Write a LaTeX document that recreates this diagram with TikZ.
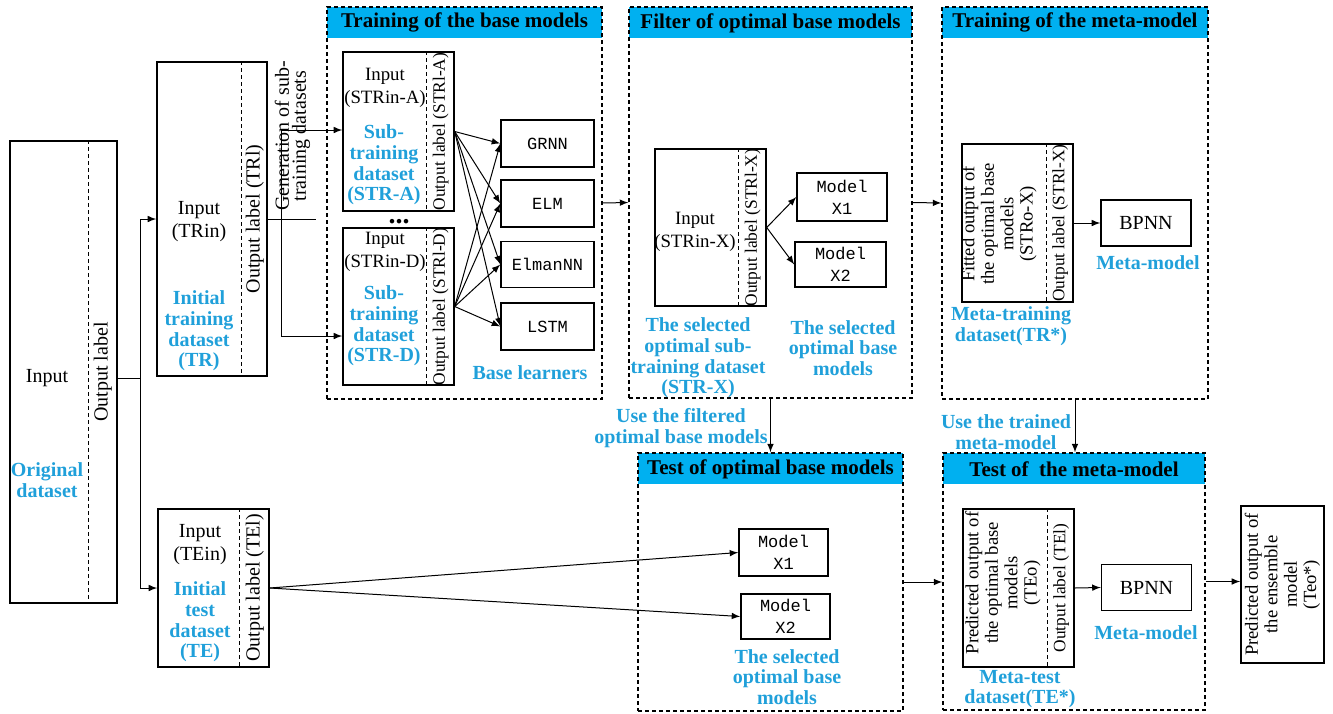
\documentclass[tikz,border=0pt]{standalone}
\usepackage{fontspec}
\setmainfont{Liberation Serif}
\newfontfamily\monofont{Liberation Mono}
\usepackage{xcolor}
\usepackage{tikz}
\usetikzlibrary{arrows}
\definecolor{barblue}{RGB}{0,176,240}
\definecolor{txtblue}{RGB}{32,160,218}

\begin{document}
\begin{tikzpicture}[x=0.5pt, y=-0.5pt,
        dset/.style={draw, line width=0.7pt, inner sep=0pt},
        divline/.style={line width=0.6pt, dash pattern=on 2pt off 1.5pt},
        panel/.style={draw, line width=0.6pt, dash pattern=on 2pt off 1.5pt, inner sep=0pt},
        bar/.style={fill=barblue, inner sep=0pt, minimum height=15.5pt, anchor=north,
            font=\fontsize{10.5}{12}\selectfont\bfseries},
        learner/.style={draw, line width=0.7pt, inner sep=0pt, align=center,
            font=\monofont\fontsize{8.5}{11}\selectfont},
        bpnnbox/.style={draw, line width=0.7pt, inner sep=0pt, minimum width=45pt, minimum height=23pt,
            font=\fontsize{10}{12}\selectfont},
        txt/.style={align=center, inner sep=1pt, font=\fontsize{10}{11.5}\selectfont},
        txts/.style={align=center, inner sep=1pt, font=\fontsize{9.4}{11.5}\selectfont},
        cyantxt/.style={align=center, inner sep=1pt, text=txtblue, font=\fontsize{10}{10.3}\selectfont\bfseries},
        vlab/.style={rotate=90, inner sep=0pt, font=\fontsize{10}{12}\selectfont},
        vlabs/.style={rotate=90, inner sep=0pt, font=\fontsize{8.7}{10}\selectfont},
        vtxt/.style={rotate=90, align=center, inner sep=0pt, font=\fontsize{9.3}{9.7}\selectfont},
        conn/.style={line width=0.5pt},
        arr/.style={line width=0.5pt, -latex}]
    \useasboundingbox (0,0) rectangle (1333,713);

    \node[dset, minimum width=53.5pt, minimum height=231pt] (orig) at (63.5,372) {};
    \draw[divline] ([xshift=-14.5pt]orig.north east) -- ([xshift=-14.5pt]orig.south east);
    \node[vlab] (origlab) at ([xshift=-7.5pt]orig.east) {Output label};
    \node[txt] (origin) at (47,378) {Input};
    \node[cyantxt] (origname) at (47,480) {Original\\dataset};

    \node[dset, minimum width=55pt, minimum height=157pt] (tr) at (212,219) {};
    \draw[divline] ([xshift=-13pt]tr.north east) -- ([xshift=-13pt]tr.south east);
    \node[vlab] (trlab) at ([xshift=-6.5pt]tr.east) {Output label (TRl)};
    \node[txt] (trin) at (199,222) {Input\\(TRin)};
    \node[cyantxt] (trname) at (199,331) {Initial\\training\\dataset\\(TR)};

    \node[dset, minimum width=55.5pt, minimum height=79pt] (te) at (213.5,588) {};
    \draw[divline] ([xshift=-15pt]te.north east) -- ([xshift=-15pt]te.south east);
    \node[vlab] (telab) at ([xshift=-7.5pt]te.east) {Output label (TEl)};
    \node[txt] (tein) at (200,545) {Input\\(TEin)};
    \node[cyantxt] (tename) at (200,622) {Initial\\test\\dataset\\(TE)};

    \coordinate (jn) at (140,378);
    \draw[conn] (orig.east |- jn) -- (jn);
    \draw[arr] (jn) |- (tr.west);
    \draw[arr] (jn) |- (te.west);

    \node[bar, minimum width=137.5pt] (trainbar) at (464.5,7) {Training of the base models};
    \node[bar, minimum width=141.5pt] (filtbar) at (770.5,7) {Filter of optimal base models};
    \node[bar, minimum width=133pt] (metabar) at (1075,7) {Training of the meta-model};
    \node[bar, minimum width=132.5pt] (testbar) at (770.5,453) {Test of optimal base models};
    \node[bar, minimum width=131pt] (mtestbar) at (1074,453) {Test of \ the meta-model};

    \node[panel, minimum width=137.5pt, minimum height=196pt] (trainp) at (464.5,203) {};
    \node[panel, minimum width=141.5pt, minimum height=195.5pt] (filtp) at (770.5,202.5) {};
    \node[panel, minimum width=133pt, minimum height=196pt] (metap) at (1075,203) {};
    \node[panel, minimum width=132.5pt, minimum height=129pt] (testp) at (770.5,582) {};
    \node[panel, minimum width=131pt, minimum height=128.5pt] (mtestp) at (1074,581.5) {};

    \node[dset, minimum width=55.5pt, minimum height=79.5pt] (stra) at (398.5,131.5) {};
    \draw[divline] ([xshift=-14pt]stra.north east) -- ([xshift=-14pt]stra.south east);
    \node[vlabs] (stralab) at ([xshift=-7pt]stra.east) {Output label (STRl-A)};
    \node[txts] (strain) at (385,88) {Input\\(STRin-A)};
    \node[cyantxt] (straname) at (384,165) {Sub-\\training\\dataset\\(STR-A)};

    \node[inner sep=0pt, font=\fontsize{14}{14}\selectfont\bfseries] (dots) at (399,222) {...};

    \node[dset, minimum width=55.5pt, minimum height=78.5pt] (strd) at (398.5,306.5) {};
    \draw[divline] ([xshift=-14pt]strd.north east) -- ([xshift=-14pt]strd.south east);
    \node[vlabs] (strdlab) at ([xshift=-7pt]strd.east) {Output label (STRl-D)};
    \node[txts] (strdin) at (385,252) {Input\\(STRin-D)};
    \node[cyantxt] (strdname) at (384,326) {Sub-\\training\\dataset\\(STR-D)};

    \coordinate (gtop) at (281,130);
    \coordinate (gbot) at (281,336);
    \coordinate (gstub) at (316,219);
    \draw[conn] (tr.east) -- (gstub);
    \draw[arr] (gbot) -- (gtop) -- (stra.west |- gtop);
    \draw[arr] (gbot) -- (strd.west |- gbot);
    \node[vtxt, font=\fontsize{10}{8.5}\selectfont] (gen) at (292.5,136) {Generation of sub-\\training datasets};

    \node[learner, minimum width=46.5pt, minimum height=23.5pt] (grnn) at (547.5,143.5) {GRNN};
    \node[learner, minimum width=46.5pt, minimum height=23.5pt] (elm) at (547.5,203.5) {ELM};
    \node[learner, minimum width=46.5pt, minimum height=23pt] (elman) at (547.5,264.5) {ElmanNN};
    \node[learner, minimum width=46.5pt, minimum height=23.5pt] (lstm) at (547.5,326.5) {LSTM};
    \node[cyantxt] (baselrn) at (530,373) {Base learners};
    \foreach \s in {stra,strd}
        \foreach \t in {grnn,elm,elman,lstm}
            \draw[arr] (\s.east) -- (\t.west);

    \draw[arr] (trainp.east) -- (filtp.west);

    \node[dset, minimum width=55.5pt, minimum height=78.5pt] (strx) at (710.5,227.5) {};
    \draw[divline] ([xshift=-14pt]strx.north east) -- ([xshift=-14pt]strx.south east);
    \node[vlabs] (strxlab) at ([xshift=-7pt]strx.east) {Output label (STRl-X)};
    \node[txts] (strxin) at (695,232) {Input\\(STRin-X)};
    \node[learner, minimum width=45pt, minimum height=24pt] (modx1) at (842,197) {Model\\X1};
    \node[learner, minimum width=45.5pt, minimum height=22.5pt] (modx2) at (840.5,264.5) {Model\\X2};
    \draw[arr] (strx.east) -- (modx1.west);
    \draw[arr] (strx.east) -- (modx2.west);
    \node[cyantxt] (strxname) at (698,358) {The selected\\optimal sub-\\training dataset\\(STR-X)};
    \node[cyantxt] (optname) at (843,348) {The selected\\optimal base\\models};

    \draw[arr] (filtp.east) -- (metap.west);

    \node[dset, minimum width=55.5pt, minimum height=79pt] (stro) at (1017.5,223) {};
    \draw[divline] ([xshift=-13.5pt]stro.north east) -- ([xshift=-13.5pt]stro.south east);
    \node[vlabs] (strolab) at ([xshift=-6.75pt]stro.east) {Output label (STRl-X)};
    \node[vtxt] (strotxt) at (999,224) {Fitted output of\\the optimal base\\models\\(STRo-X)};
    \node[bpnnbox] (bpnn) at (1146,223) {BPNN};
    \draw[arr] (stro.east) -- (bpnn.west);
    \node[cyantxt] (metamod) at (1148,263) {Meta-model};
    \node[cyantxt] (trstar) at (1011,326) {Meta-training\\dataset(TR*)};

    \draw[arr] (filtp.south) -- (testp.north);
    \node[cyantxt] (usefilt) at (681,428) {Use the filtered\\optimal base models};

    \node[learner, minimum width=44.5pt, minimum height=23.5pt] (tx1) at (783.5,552.5) {Model\\X1};
    \node[learner, minimum width=44.5pt, minimum height=22.5pt] (tx2) at (785.5,616.5) {Model\\X2};
    \node[cyantxt] (toptname) at (787,677) {The selected\\optimal base\\models};
    \draw[arr] (te.east) -- (tx1.west);
    \draw[arr] (te.east) -- (tx2.west);

    \draw[arr] (metap.south) -- (metap.south |- mtestp.north);
    \node[cyantxt] (usetrain) at (1006,432) {Use the trained\\meta-model};
    \draw[arr] (testp.east) -- (testp.east -| mtestp.west);

    \node[dset, minimum width=55.5pt, minimum height=79pt] (teo) at (1018.5,588) {};
    \draw[divline] ([xshift=-13.5pt]teo.north east) -- ([xshift=-13.5pt]teo.south east);
    \node[vlabs] (teolab) at ([xshift=-6.75pt]teo.east) {Output label (TEl)};
    \node[vtxt] (teotxt) at (1003,583) {Predicted output of\\the optimal base\\models\\(TEo)};
    \node[bpnnbox] (bpnn2) at (1146.5,587.5) {BPNN};
    \draw[arr] (teo.east) -- (bpnn2.west);
    \node[cyantxt] (metamod2) at (1146,633) {Meta-model};
    \node[cyantxt] (testar) at (1020,689) {Meta-test\\dataset(TE*)};

    \node[dset, minimum width=41.5pt, minimum height=78.5pt] (final) at (1282.5,584.5) {};
    \node[vtxt] (finaltxt) at (final.center) {Predicted output of\\the ensemble\\model\\(Teo*)};
    \draw[arr] (mtestp.east) -- (mtestp.east -| final.west);
\end{tikzpicture}
\end{document}
